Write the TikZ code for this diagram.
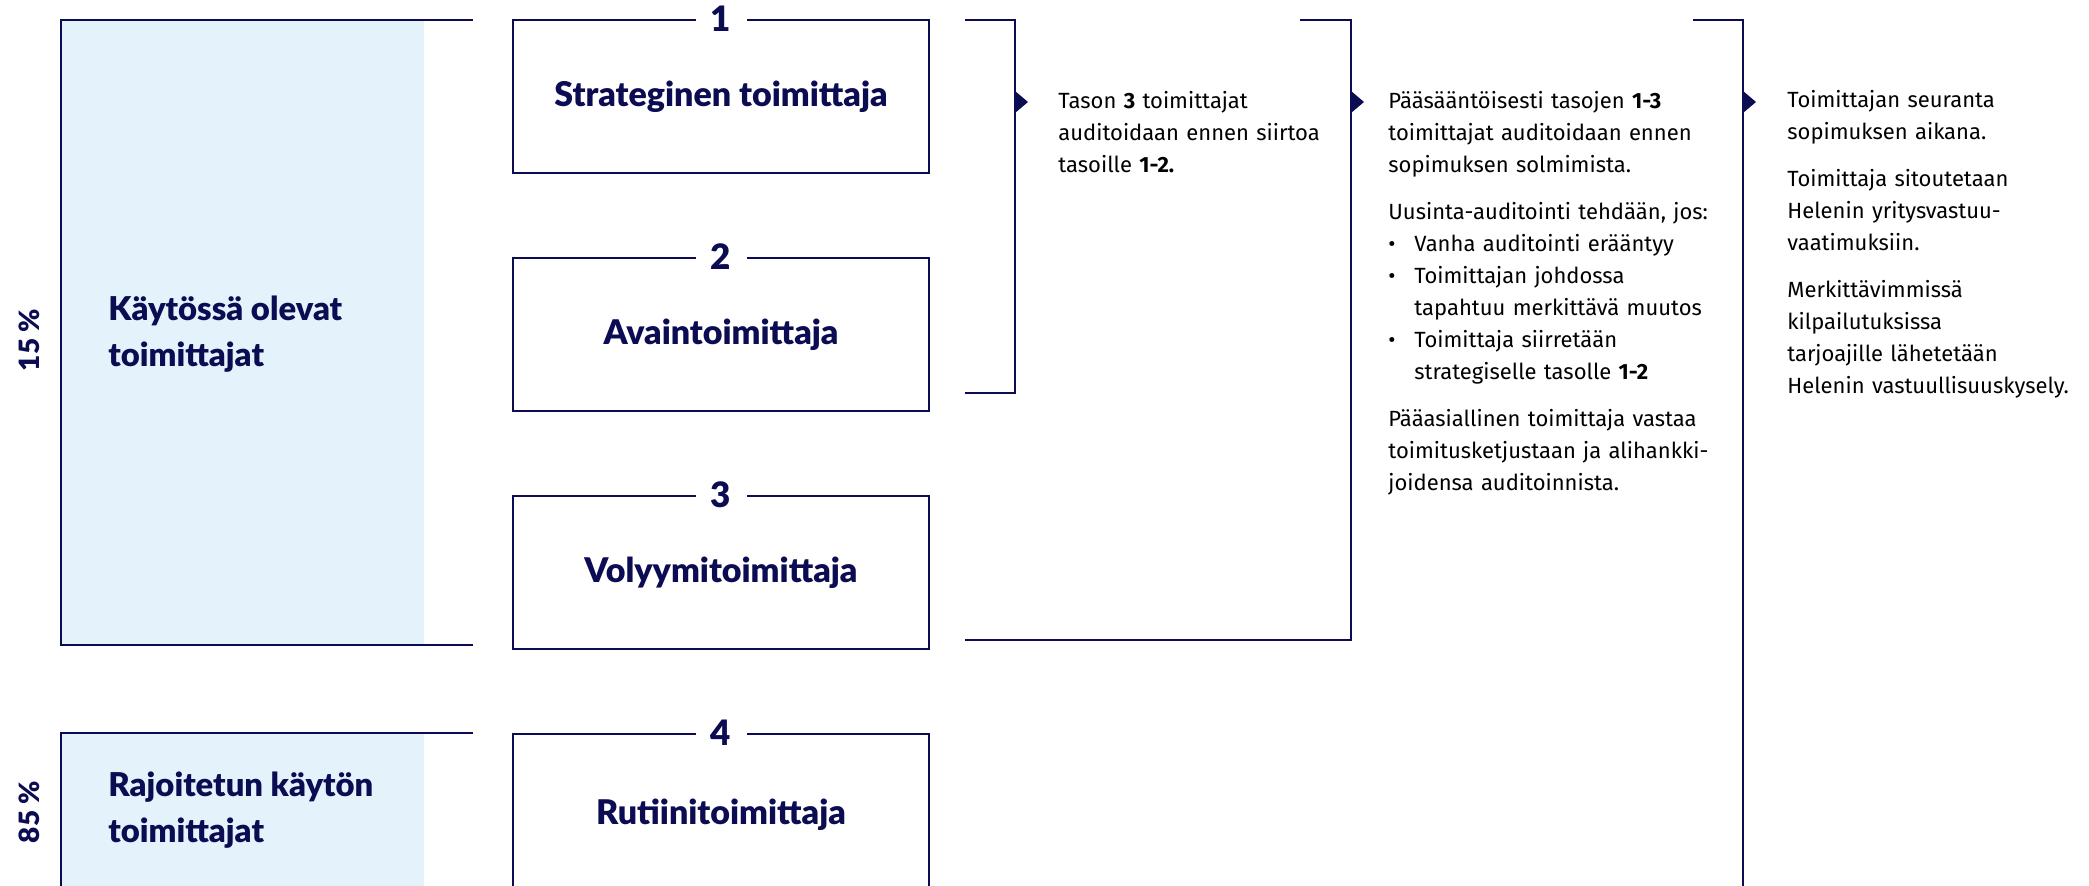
\documentclass[tikz,border=0pt]{standalone}
\usepackage{fontspec}
\setmainfont{Fira Sans}
\newfontfamily\headfont{Lato Black}
\usetikzlibrary{positioning}

\definecolor{navy}{RGB}{12,12,82}
\definecolor{paleblue}{RGB}{228,242,252}

\newcommand{\notebullet}{\makebox[13pt][l]{\textbullet}}

\tikzset{
  navyline/.style={draw=navy, line width=1pt},
  tierbox/.style={navyline, minimum width=208pt, minimum height=76.5pt, inner sep=0pt,
    text=navy, font=\headfont\fontsize{17}{20}\selectfont},
  tiernum/.style={fill=white, text=navy, minimum width=25.5pt, inner sep=0pt,
    font=\headfont\fontsize{17.5}{20}\selectfont},
  grouplabel/.style={anchor=west, align=left, inner sep=0pt, text=navy,
    font=\headfont\fontsize{16.4}{23}\selectfont},
  sharelabel/.style={rotate=90, inner sep=0pt, text=navy,
    font=\headfont\fontsize{14}{16}\selectfont},
  note/.style={anchor=base west, align=left, text width=200pt, inner sep=0pt,
    font=\fontsize{11}{16}\selectfont}
}

\begin{document}
\begin{tikzpicture}[x=0.5pt, y=-0.5pt]
  \useasboundingbox (0,0) rectangle (2089,886);

  % Light blue backgrounds of the two supplier groups
  \fill[paleblue] (61,20) rectangle (424,645);
  \fill[paleblue] (61,733) rectangle (424,900);

  % Group brackets on the left
  \draw[navyline] (473,20) -- (61,20) -- (61,645) -- (473,645);
  \draw[navyline] (473,733) -- (61,733) -- (61,900);

  % Group names and shares
  \node[grouplabel] (inuse) at (108,334.5) {Käytössä olevat\\toimittajat};
  \node[grouplabel] (limited) at (108,810.5) {Rajoitetun käytön\\toimittajat};
  \node[sharelabel] (share15) at (29,340) {15 \%};
  \node[sharelabel] (share85) at (29,812) {85 \%};

  % The four supplier tiers
  \node[tierbox] (box1) at (721,96.5) {Strateginen toimittaja};
  \node[tierbox, below=41.5pt of box1] (box2) {Avaintoimittaja};
  \node[tierbox, below=41.5pt of box2] (box3) {Volyymitoimittaja};
  \node[tierbox, below=41.5pt of box3, minimum height=81pt] (box4) {Rutiinitoimittaja};

  % Tier numbers sitting in the top edge
  \foreach \n in {1,...,4}
    \node[tiernum] (num\n) at (box\n.north) {\n};

  % Brackets leading to the audit notes
  \draw[navyline] (965,20) -- (1015,20) -- (1015,393) -- (965,393);
  \draw[navyline] (1300,20) -- (1351,20) -- (1351,640) -- (965,640);
  \draw[navyline] (1693,20) -- (1743,20) -- (1743,900);

  % Small pointers on the brackets
  \foreach \x in {1015,1351,1743}
    \fill[navy] (\x,91) -- (\x+13,102) -- (\x,113) -- cycle;

  % Audit notes
  \node[note] (noteA) at (1058,109) {Tason \textbf{3} toimittajat\\
    auditoidaan ennen siirtoa\\
    tasoille \textbf{1-2.}};

  \node[note] (noteB) at (1388,109) {Pääsääntöisesti tasojen \textbf{1-3}\\
    toimittajat auditoidaan ennen\\
    sopimuksen solmimista.\\[7.5pt]
    Uusinta-auditointi tehdään, jos:\\
    \notebullet Vanha auditointi erääntyy\\
    \notebullet Toimittajan johdossa\\
    \hspace*{13pt}tapahtuu merkittävä muutos\\
    \notebullet Toimittaja siirretään\\
    \hspace*{13pt}strategiselle tasolle \textbf{1-2}\\[7.5pt]
    Pääasiallinen toimittaja vastaa\\
    toimitusketjustaan ja alihankki-\\
    joidensa auditoinnista.};

  \node[note] (noteC) at (1787,108) {Toimittajan seuranta\\
    sopimuksen aikana.\\[7.5pt]
    Toimittaja sitoutetaan\\
    Helenin yritysvastuu-\\
    vaatimuksiin.\\[7.5pt]
    Merkittävimmissä\\
    kilpailutuksissa\\
    tarjoajille lähetetään\\
    Helenin vastuullisuuskysely.};
\end{tikzpicture}
\end{document}
